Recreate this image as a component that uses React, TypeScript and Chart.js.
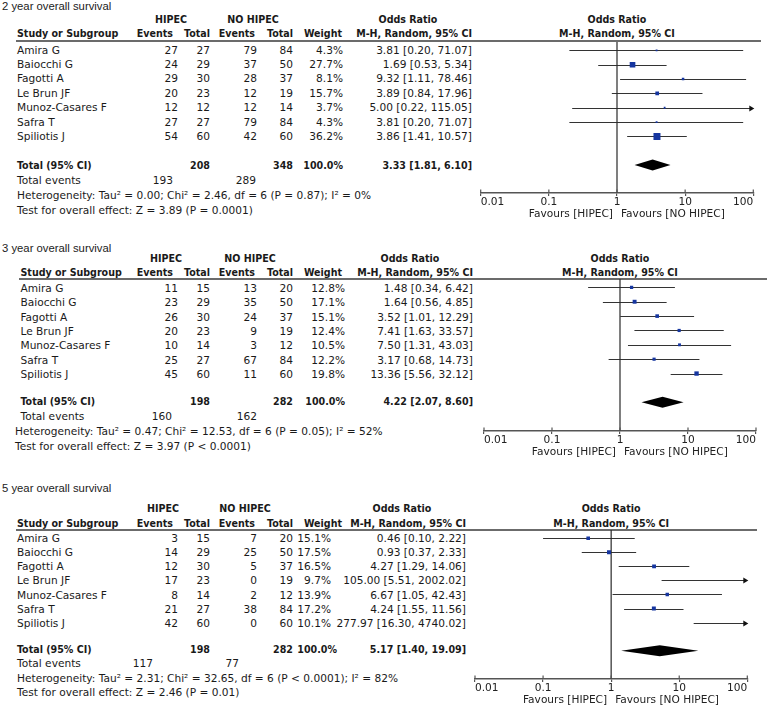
import React, { useEffect, useRef } from "react";
import { Chart, registerables } from "chart.js";
Chart.register(...registerables);

// ---------- shared data ----------
const STUDIES = ["Amira G", "Baiocchi G", "Fagotti A", "Le Brun JF", "Munoz-Casares F", "Safra T", "Spiliotis J"];
const AXIS_TICKS = [0.01, 0.1, 1, 10, 100];
const AXIS_TICK_LABELS = ["0.01", "0.1", "1", "10", "100"];
const FAVOURS_LEFT = "Favours [HIPEC]";
const FAVOURS_RIGHT = "Favours [NO HIPEC]";

// ---------- 2 year ----------
const os2Title = "2 year overall survival";
const os2HipecEvents = [27, 24, 29, 20, 12, 27, 54];
const os2HipecTotal = [27, 29, 30, 23, 12, 27, 60];
const os2NoEvents = [79, 37, 28, 12, 12, 79, 42];
const os2NoTotal = [84, 50, 37, 19, 14, 84, 60];
const os2Weight = [4.3, 27.7, 8.1, 15.7, 3.7, 4.3, 36.2];
const os2OR = [3.81, 1.69, 9.32, 3.89, 5.0, 3.81, 3.86];
const os2Lo = [0.2, 0.53, 1.11, 0.84, 0.22, 0.2, 1.41];
const os2Hi = [71.07, 5.34, 78.46, 17.96, 115.05, 71.07, 10.57];
const os2TotalN = [208, 348];
const os2TotalEvents = [193, 289];
const os2Pooled = [3.33, 1.81, 6.1];
const os2Het = "Heterogeneity: Tau² = 0.00; Chi² = 2.46, df = 6 (P = 0.87); I² = 0%";
const os2Test = "Test for overall effect: Z = 3.89 (P = 0.0001)";

// ---------- 3 year ----------
const os3Title = "3 year overall survival";
const os3HipecEvents = [11, 23, 26, 20, 10, 25, 45];
const os3HipecTotal = [15, 29, 30, 23, 14, 27, 60];
const os3NoEvents = [13, 35, 24, 9, 3, 67, 11];
const os3NoTotal = [20, 50, 37, 19, 12, 84, 60];
const os3Weight = [12.8, 17.1, 15.1, 12.4, 10.5, 12.2, 19.8];
const os3OR = [1.48, 1.64, 3.52, 7.41, 7.5, 3.17, 13.36];
const os3Lo = [0.34, 0.56, 1.01, 1.63, 1.31, 0.68, 5.56];
const os3Hi = [6.42, 4.85, 12.29, 33.57, 43.03, 14.73, 32.12];
const os3TotalN = [198, 282];
const os3TotalEvents = [160, 162];
const os3Pooled = [4.22, 2.07, 8.6];
const os3Het = "Heterogeneity: Tau² = 0.47; Chi² = 12.53, df = 6 (P = 0.05); I² = 52%";
const os3Test = "Test for overall effect: Z = 3.97 (P < 0.0001)";

// ---------- 5 year ----------
const os5Title = "5 year overall survival";
const os5HipecEvents = [3, 14, 12, 17, 8, 21, 42];
const os5HipecTotal = [15, 29, 30, 23, 14, 27, 60];
const os5NoEvents = [7, 25, 5, 0, 2, 38, 0];
const os5NoTotal = [20, 50, 37, 19, 12, 84, 60];
const os5Weight = [15.1, 17.5, 16.5, 9.7, 13.9, 17.2, 10.1];
const os5OR = [0.46, 0.93, 4.27, 105.0, 6.67, 4.24, 277.97];
const os5Lo = [0.1, 0.37, 1.29, 5.51, 1.05, 1.55, 16.3];
const os5Hi = [2.22, 2.33, 14.06, 2002.02, 42.43, 11.56, 4740.02];
const os5TotalN = [198, 282];
const os5TotalEvents = [117, 77];
const os5Pooled = [5.17, 1.4, 19.09];
const os5Het = "Heterogeneity: Tau² = 2.31; Chi² = 32.65, df = 6 (P < 0.0001); I² = 82%";
const os5Test = "Test for overall effect: Z = 2.46 (P = 0.01)";

const PANELS = [
  { title: os2Title, he: os2HipecEvents, ht: os2HipecTotal, ne: os2NoEvents, nt: os2NoTotal, w: os2Weight, or: os2OR, lo: os2Lo, hi: os2Hi, totalN: os2TotalN, totalEv: os2TotalEvents, pooled: os2Pooled, het: os2Het, test: os2Test },
  { title: os3Title, he: os3HipecEvents, ht: os3HipecTotal, ne: os3NoEvents, nt: os3NoTotal, w: os3Weight, or: os3OR, lo: os3Lo, hi: os3Hi, totalN: os3TotalN, totalEv: os3TotalEvents, pooled: os3Pooled, het: os3Het, test: os3Test },
  { title: os5Title, he: os5HipecEvents, ht: os5HipecTotal, ne: os5NoEvents, nt: os5NoTotal, w: os5Weight, or: os5OR, lo: os5Lo, hi: os5Hi, totalN: os5TotalN, totalEv: os5TotalEvents, pooled: os5Pooled, het: os5Het, test: os5Test },
];

// ---------- layout (positions only) ----------
const LAYOUTS = [
  { titleY: 5.5, h1Y: 19.3, h2Y: 33.3, lineY: 41, row0: 49.5, step: 14.4, totalY: 165, tevY: 180, hetY: 195, testY: 210, axisY: 192.7,
    labelX: 17, statX: 17, hipecC: 171, noC: 253, wR: 343, wTotR: 343, orR: 472, orHdrC: 408, totEvR: [173, 256], px01: 480.7, px100: 753.3, lineStart: 16, lineEnd: 761 },
  { titleY: 247.5, h1Y: 258.3, h2Y: 271.7, lineY: 279.3, row0: 287.7, step: 14.4, totalY: 401, tevY: 416, hetY: 431, testY: 446, axisY: 431.7,
    labelX: 20.5, statX: 15, hipecC: 166, noC: 250, wR: 345, wTotR: 345, orR: 473, orHdrC: 410, totEvR: [172, 257], px01: 484, px100: 756, lineStart: 19, lineEnd: 767 },
  { titleY: 488, h1Y: 508.3, h2Y: 522.7, lineY: 530, row0: 538.3, step: 14.05, totalY: 649, tevY: 663, hetY: 677.5, testY: 692, axisY: 679,
    labelX: 17, statX: 17, hipecC: 163, noC: 245, wR: 331, wTotR: 337, orR: 466, orHdrC: 402, totEvR: [153, 239], px01: 475, px100: 747.3, lineStart: 16, lineEnd: 757 },
];

const COL_R = [178, 210, 257, 293];
const HDR_R = [173, 210, 255, 293, 342];
const FONT = '"DejaVu Sans", Verdana, sans-serif';
const FONT_BOLD = '"DejaVu Sans Condensed", "DejaVu Sans", Verdana, sans-serif';
const FS = 10.6;
const TEXT = "#1a1a1a";
const SQUARE = "#1636a0";

const fmtOR = (o: number, l: number, h: number) => `${o.toFixed(2)} [${l.toFixed(2)}, ${h.toFixed(2)}]`;

function Txt({ x, y, text, align = "left", bold = false, title = false }: any) {
  const style: any = {
    position: "absolute",
    top: y - 6,
    whiteSpace: "pre",
    fontFamily: title ? '"Liberation Sans", Arial, sans-serif' : bold ? FONT_BOLD : FONT,
    fontSize: title ? 11.3 : FS,
    lineHeight: "12px",
    fontWeight: bold ? 700 : 400,
    color: title ? "#222" : TEXT,
  };
  if (align === "left") style.left = x;
  else if (align === "right") style.right = 768 - x;
  else {
    style.left = x - 150;
    style.width = 300;
    style.textAlign = "center";
  }
  return <div style={style}>{text}</div>;
}

function ForestChart({ p, L }: any) {
  const ref = useRef<HTMLCanvasElement>(null);
  const CL = 392;
  const W = 768 - CL;
  const top = L.lineY - 4;
  const AXIS_BLOCK = 30;
  const H = Math.round(L.axisY + AXIS_BLOCK - top);
  useEffect(() => {
    const yMin = (L.lineY - L.row0) / L.step;
    const yMax = (L.axisY - L.row0) / L.step;
    const forest = {
      id: "forest",
      beforeDatasetsDraw(chart: any) {
        const { ctx, scales } = chart;
        const x = scales.x, y = scales.y;
        const xMin = x.getPixelForValue(0.01), xMax = x.getPixelForValue(100);
        ctx.save();
        ctx.strokeStyle = "#333";
        ctx.fillStyle = "#111";
        ctx.lineWidth = 1;
        for (let i = 0; i < p.or.length; i++) {
          const yp = Math.round(y.getPixelForValue(i)) + 0.5;
          const x1 = x.getPixelForValue(Math.max(p.lo[i], 0.01));
          const x2 = x.getPixelForValue(Math.min(p.hi[i], 100));
          ctx.beginPath();
          ctx.moveTo(x1, yp);
          ctx.lineTo(x2, yp);
          ctx.stroke();
          if (p.hi[i] > 100) {
            ctx.beginPath();
            ctx.moveTo(xMax + 1, yp);
            ctx.lineTo(xMax - 4, yp - 3);
            ctx.lineTo(xMax - 4, yp + 3);
            ctx.closePath();
            ctx.fill();
          }
          if (p.lo[i] < 0.01) {
            ctx.beginPath();
            ctx.moveTo(xMin - 1, yp);
            ctx.lineTo(xMin + 4, yp - 3);
            ctx.lineTo(xMin + 4, yp + 3);
            ctx.closePath();
            ctx.fill();
          }
        }
        // pooled diamond
        const dy = y.getPixelForValue(8);
        const hh = 5.5;
        ctx.fillStyle = "#000";
        ctx.beginPath();
        ctx.moveTo(x.getPixelForValue(p.pooled[1]), dy);
        ctx.lineTo(x.getPixelForValue(p.pooled[0]), dy - hh);
        ctx.lineTo(x.getPixelForValue(p.pooled[2]), dy);
        ctx.lineTo(x.getPixelForValue(p.pooled[0]), dy + hh);
        ctx.closePath();
        ctx.fill();
        ctx.restore();
      },
      afterDraw(chart: any) {
        const { ctx, scales, chartArea } = chart;
        const x = scales.x;
        ctx.save();
        ctx.strokeStyle = "#555";
        ctx.lineWidth = 1.2;
        for (const v of AXIS_TICKS) {
          const px = x.getPixelForValue(v);
          ctx.beginPath();
          ctx.moveTo(px, chartArea.bottom - 3.5);
          ctx.lineTo(px, chartArea.bottom);
          ctx.stroke();
        }
        const c = x.getPixelForValue(1);
        ctx.fillStyle = "#222";
        ctx.font = `${FS}px ${FONT}`;
        ctx.textBaseline = "middle";
        ctx.textAlign = "right";
        ctx.fillText(FAVOURS_LEFT, c - 4, chartArea.bottom + 21.5);
        ctx.textAlign = "left";
        ctx.fillText(FAVOURS_RIGHT, c + 4, chartArea.bottom + 21.5);
        ctx.restore();
      },
    };
    const chart = new Chart(ref.current as HTMLCanvasElement, {
      type: "scatter",
      data: {
        datasets: [
          {
            type: "line",
            data: [{ x: 1, y: yMin }, { x: 1, y: yMax }],
            borderColor: "#2a2a2a",
            borderWidth: 1.2,
            pointRadius: 0,
            clip: false,
            order: 2,
          } as any,
          {
            type: "scatter",
            data: p.or.map((v: number, i: number) => ({ x: v, y: i })),
            pointStyle: "rect",
            pointRadius: (c: any) => {
              const v = p.or[c.dataIndex];
              if (v > 100 || v < 0.01) return 0;
              const side = 1.2 + 0.16 * p.w[c.dataIndex];
              return side / Math.SQRT2;
            },
            backgroundColor: SQUARE,
            borderWidth: 0,
            order: 1,
          } as any,
        ],
      },
      options: {
        responsive: false,
        animation: false,
        devicePixelRatio: 1,
        events: [],
        layout: { padding: { left: L.px01 - CL, right: 768 - L.px100, top: 4, bottom: 0 } },
        plugins: { legend: { display: false }, tooltip: { enabled: false } },
        scales: {
          x: {
            type: "logarithmic",
            min: 0.01,
            max: 100,
            position: "bottom",
            afterBuildTicks: (s: any) => {
              s.ticks = AXIS_TICKS.map((v) => ({ value: v }));
            },
            afterFit: (s: any) => {
              s.height = AXIS_BLOCK;
            },
            ticks: {
              autoSkip: false,
              maxRotation: 0,
              align: "inner",
              padding: 0,
              color: "#222",
              font: { family: FONT, size: FS },
              callback: (_v: any, i: number) => AXIS_TICK_LABELS[i],
            },
            grid: { drawOnChartArea: false, drawTicks: true, tickLength: 3, color: "#555", lineWidth: 1.2 },
            border: { display: true, color: "#555", width: 1.5 },
          } as any,
          y: { type: "linear", display: false, reverse: true, min: yMin, max: yMax },
        },
      },
      plugins: [forest],
    });
    return () => chart.destroy();
  }, []);
  return (
    <canvas
      ref={ref}
      width={W}
      height={H}
      style={{ position: "absolute", left: CL, top, width: W, height: H }}
    />
  );
}

function Panel({ p, L }: any) {
  const px1 = (L.px01 + L.px100) / 2;
  const els: any[] = [];
  els.push(<Txt key="t" x={2} y={L.titleY} text={p.title} title />);
  els.push(<Txt key="h1a" x={L.hipecC} y={L.h1Y} text="HIPEC" align="center" bold />);
  els.push(<Txt key="h1b" x={L.noC} y={L.h1Y} text="NO HIPEC" align="center" bold />);
  els.push(<Txt key="h1c" x={L.orHdrC} y={L.h1Y} text="Odds Ratio" align="center" bold />);
  els.push(<Txt key="h1d" x={px1} y={L.h1Y} text="Odds Ratio" align="center" bold />);
  els.push(<Txt key="h2a" x={L.labelX} y={L.h2Y} text="Study or Subgroup" bold />);
  ["Events", "Total", "Events", "Total", "Weight"].forEach((h, j) =>
    els.push(<Txt key={"h2" + j} x={HDR_R[j]} y={L.h2Y} text={h} align="right" bold />)
  );
  els.push(<Txt key="h2or" x={L.orR} y={L.h2Y} text="M-H, Random, 95% CI" align="right" bold />);
  els.push(<Txt key="h2pl" x={px1} y={L.h2Y} text="M-H, Random, 95% CI" align="center" bold />);
  STUDIES.forEach((s, i) => {
    const y = L.row0 + i * L.step;
    els.push(<Txt key={"s" + i} x={L.labelX} y={y} text={s} />);
    [p.he[i], p.ht[i], p.ne[i], p.nt[i]].forEach((v: number, j: number) =>
      els.push(<Txt key={`c${i}_${j}`} x={COL_R[j]} y={y} text={String(v)} align="right" />)
    );
    els.push(<Txt key={"w" + i} x={L.wR} y={y} text={p.w[i].toFixed(1) + "%"} align="right" />);
    els.push(<Txt key={"o" + i} x={L.orR} y={y} text={fmtOR(p.or[i], p.lo[i], p.hi[i])} align="right" />);
  });
  els.push(<Txt key="tt" x={L.labelX} y={L.totalY} text="Total (95% CI)" bold />);
  els.push(<Txt key="tn1" x={COL_R[1]} y={L.totalY} text={String(p.totalN[0])} align="right" bold />);
  els.push(<Txt key="tn2" x={COL_R[3]} y={L.totalY} text={String(p.totalN[1])} align="right" bold />);
  els.push(<Txt key="tw" x={L.wTotR} y={L.totalY} text="100.0%" align="right" bold />);
  els.push(<Txt key="tor" x={L.orR} y={L.totalY} text={fmtOR(p.pooled[0], p.pooled[1], p.pooled[2])} align="right" bold />);
  els.push(<Txt key="te" x={L.labelX} y={L.tevY} text="Total events" />);
  els.push(<Txt key="te1" x={L.totEvR[0]} y={L.tevY} text={String(p.totalEv[0])} align="right" />);
  els.push(<Txt key="te2" x={L.totEvR[1]} y={L.tevY} text={String(p.totalEv[1])} align="right" />);
  els.push(<Txt key="het" x={L.statX} y={L.hetY} text={p.het} />);
  els.push(<Txt key="test" x={L.statX} y={L.testY} text={p.test} />);
  return (
    <>
      <div
        style={{
          position: "absolute",
          left: L.lineStart,
          top: L.lineY - 1,
          width: L.lineEnd - L.lineStart,
          height: 2,
          background: "#6b6b6b",
        }}
      />
      {els}
      <ForestChart p={p} L={L} />
    </>
  );
}

export default function App() {
  return (
    <div
      style={{
        position: "absolute",
        left: 0,
        top: 0,
        width: 768,
        height: 706,
        overflow: "hidden",
        background: "#fff",
      }}
    >
      {PANELS.map((p, k) => (
        <Panel key={k} p={p} L={LAYOUTS[k]} />
      ))}
    </div>
  );
}
